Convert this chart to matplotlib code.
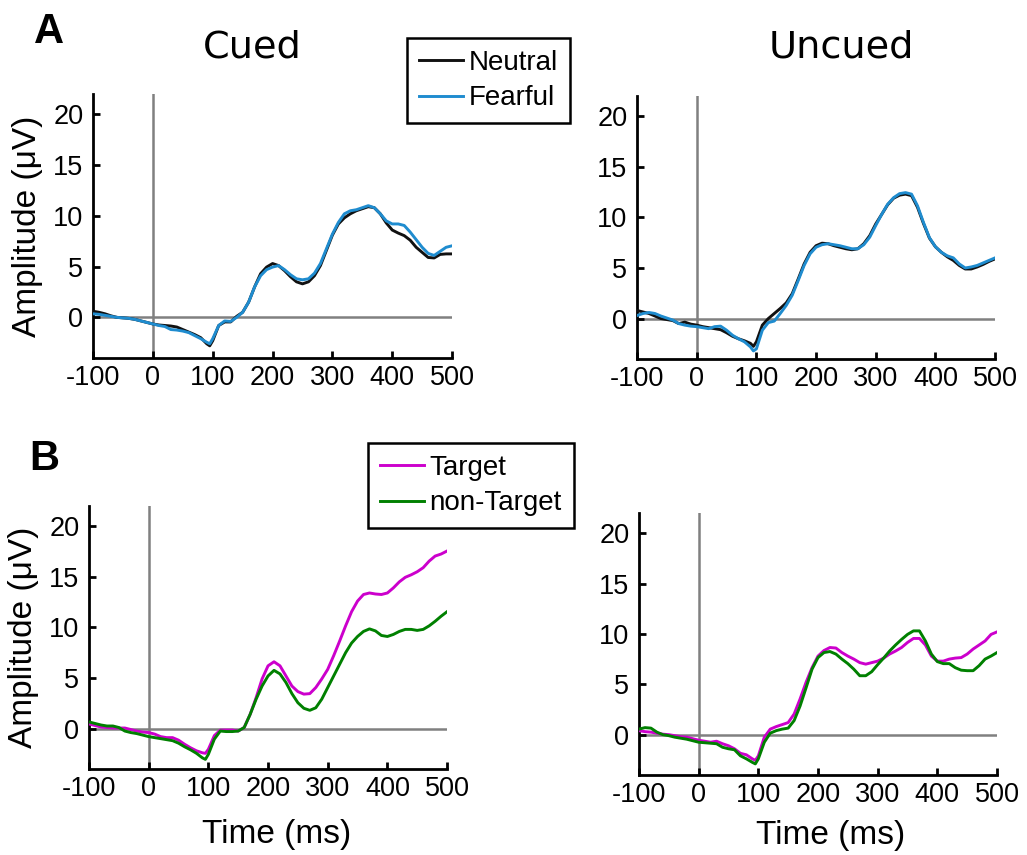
import numpy as np
import matplotlib
matplotlib.use("Agg")
import matplotlib.pyplot as plt

plt.rcParams["font.family"] = ["Liberation Sans", "DejaVu Sans"]
plt.rcParams["axes.unicode_minus"] = False

# sample times (ms), extra point at 95 ms to catch the dip
times = np.r_[np.arange(-100, 91, 10), 95, np.arange(100, 501, 10)]

# A: cued
cued_neutral = [0.6, 0.5, 0.35, 0.15, 0.0, -0.05, -0.1, -0.2, -0.35, -0.5,
                -0.65, -0.75, -0.8, -0.85, -0.95, -1.2, -1.45, -1.7, -2.0, -2.6, -2.8,
                -2.3, -0.8, -0.45, -0.45, 0.1, 0.5, 1.5, 3.0, 4.3, 4.95,
                5.3, 5.1, 4.6, 4.0, 3.5, 3.3, 3.5, 4.1, 5.1, 6.6,
                8.1, 9.2, 9.8, 10.2, 10.5, 10.7, 10.9, 10.8, 10.2, 9.3,
                8.6, 8.3, 8.05, 7.6, 6.9, 6.4, 5.9, 5.85, 6.2, 6.25, 6.25]
cued_fearful = [0.35, 0.3, 0.2, 0.1, 0.0, -0.05, -0.1, -0.2, -0.35, -0.5,
                -0.65, -0.8, -0.9, -1.2, -1.25, -1.35, -1.5, -1.8, -2.1, -2.45, -2.6,
                -2.1, -0.8, -0.35, -0.4, 0.0, 0.5, 1.5, 3.0, 4.1, 4.7,
                4.95, 5.1, 4.7, 4.2, 3.8, 3.7, 3.8, 4.35, 5.3, 6.75,
                8.2, 9.35, 10.2, 10.5, 10.6, 10.8, 11.0, 10.8, 10.2, 9.5,
                9.2, 9.2, 9.05, 8.4, 7.65, 6.9, 6.3, 6.1, 6.5, 6.9, 7.05]

# A: uncued
uncued_neutral = [0.8, 0.65, 0.5, 0.25, 0.0, -0.1, -0.2, -0.5, -0.35, -0.55,
                  -0.65, -0.8, -0.9, -1.0, -1.1, -1.4, -1.75, -2.0, -2.2, -2.45, -2.75,
                  -2.3, -0.65, 0.0, 0.5, 1.0, 1.55, 2.45, 3.9, 5.4, 6.55,
                  7.2, 7.45, 7.4, 7.2, 7.05, 6.9, 6.8, 6.9, 7.4, 8.2,
                  9.35, 10.3, 11.25, 11.9, 12.2, 12.3, 12.15, 11.0, 9.4, 7.95,
                  7.1, 6.55, 6.1, 5.75, 5.25, 4.9, 4.9, 5.1, 5.35, 5.65, 5.9]
uncued_fearful = [0.3, 0.5, 0.6, 0.5, 0.25, 0.05, -0.15, -0.5, -0.65, -0.75,
                  -0.8, -0.9, -1.0, -0.8, -0.75, -1.15, -1.65, -2.0, -2.3, -2.8, -3.2,
                  -3.0, -1.15, -0.4, -0.25, 0.5, 1.3, 2.3, 3.75, 5.25, 6.4,
                  7.05, 7.3, 7.4, 7.3, 7.2, 7.05, 6.9, 6.9, 7.3, 8.05,
                  9.2, 10.3, 11.3, 11.95, 12.35, 12.45, 12.3, 11.15, 9.5, 8.0,
                  7.1, 6.55, 6.2, 6.0, 5.4, 5.0, 5.1, 5.25, 5.5, 5.75, 6.0]

# B: cued
cued_target = [0.45, 0.3, 0.15, 0.1, 0.05, 0.05, 0.05, -0.1, -0.25, -0.35,
               -0.4, -0.55, -0.8, -0.9, -0.9, -1.15, -1.55, -1.9, -2.2, -2.4, -2.45,
               -2.05, -0.7, -0.15, -0.15, -0.15, -0.25, 0.1, 1.4, 3.05, 4.9,
               6.2, 6.6, 6.2, 5.2, 4.2, 3.65, 3.4, 3.45, 4.05, 4.9,
               5.85, 7.2, 8.65, 10.15, 11.55, 12.6, 13.25, 13.4, 13.3, 13.25,
               13.4, 13.9, 14.5, 14.95, 15.2, 15.5, 15.9, 16.55, 17.05, 17.25, 17.55]
cued_nontarget = [0.65, 0.5, 0.35, 0.25, 0.25, 0.1, -0.25, -0.4, -0.5, -0.65,
                  -0.8, -0.9, -1.0, -1.1, -1.2, -1.45, -1.8, -2.1, -2.45, -2.9, -3.05,
                  -2.55, -1.05, -0.25, -0.3, -0.3, -0.25, 0.1, 1.4, 2.9, 4.2,
                  5.2, 5.75, 5.4, 4.55, 3.45, 2.55, 2.0, 1.8, 2.05, 2.9,
                  4.05, 5.2, 6.35, 7.5, 8.45, 9.1, 9.6, 9.85, 9.65, 9.2,
                  9.1, 9.3, 9.6, 9.8, 9.8, 9.7, 9.8, 10.15, 10.6, 11.1, 11.55]

# B: uncued
uncued_target = [0.4, 0.3, 0.25, 0.15, 0.05, 0.0, -0.1, -0.2, -0.25, -0.4,
                 -0.55, -0.65, -0.75, -0.65, -0.9, -1.1, -1.4, -1.85, -2.0, -2.4, -2.55,
                 -2.1, -0.25, 0.55, 0.8, 1.0, 1.2, 2.05, 3.55, 5.2, 6.65,
                 7.8, 8.35, 8.65, 8.6, 8.15, 7.8, 7.5, 7.15, 7.0, 7.15,
                 7.3, 7.6, 8.0, 8.3, 8.65, 9.15, 9.55, 9.55, 8.9, 7.8,
                 7.3, 7.3, 7.5, 7.6, 7.65, 8.0, 8.5, 8.9, 9.3, 9.95, 10.2]
uncued_nontarget = [0.55, 0.7, 0.65, 0.25, 0.0, -0.1, -0.25, -0.35, -0.45, -0.6,
                    -0.75, -0.8, -0.85, -0.9, -1.25, -1.4, -1.5, -2.1, -2.4, -2.75, -2.9,
                    -2.4, -0.75, 0.15, 0.4, 0.55, 0.65, 1.4, 2.85, 4.65, 6.5,
                    7.65, 8.15, 8.25, 8.0, 7.5, 7.05, 6.5, 5.85, 5.85, 6.25,
                    6.95, 7.6, 8.3, 8.9, 9.45, 9.95, 10.3, 10.3, 9.3, 8.0,
                    7.25, 7.05, 7.05, 6.65, 6.4, 6.35, 6.35, 6.85, 7.5, 7.8, 8.15]

xticks = [-100, 0, 100, 200, 300, 400, 500]
yticks = [0, 5, 10, 15, 20]

fig = plt.figure(figsize=(10.27, 8.55), dpi=100)
ax_a1 = fig.add_axes([0.0906, 0.5813, 0.3496, 0.3088])
ax_a2 = fig.add_axes([0.6203, 0.5801, 0.3486, 0.3076])
ax_b1 = fig.add_axes([0.0867, 0.1006, 0.3486, 0.3076])
ax_b2 = fig.add_axes([0.6222, 0.0936, 0.3486, 0.3064])


def style(ax):
    ax.axhline(0, color="#808080", lw=1.8, zorder=1)
    ax.axvline(0, color="#808080", lw=1.8, zorder=1)
    ax.set_xlim(-100, 500)
    ax.set_ylim(-4, 22)
    ax.set_xticks(xticks)
    ax.set_yticks(yticks)
    for s in ["top", "right"]:
        ax.spines[s].set_visible(False)
    for s in ["left", "bottom"]:
        ax.spines[s].set_linewidth(2.0)
    ax.tick_params(direction="in", length=5, width=2, labelsize=19.5)
    ax.tick_params(axis="x", pad=5)
    ax.tick_params(axis="y", pad=7)


lw = 2.1
blue = "#1f8ccf"
l1, = ax_a1.plot(times, cued_neutral, color="#111111", lw=lw, label="Neutral", zorder=3)
l2, = ax_a1.plot(times, cued_fearful, color=blue, lw=lw, label="Fearful", zorder=4)
ax_a2.plot(times, uncued_neutral, color="#111111", lw=lw, zorder=3)
ax_a2.plot(times, uncued_fearful, color=blue, lw=lw, zorder=4)

l3, = ax_b1.plot(times, cued_target, color="#cc00cc", lw=lw, label="Target", zorder=3)
l4, = ax_b1.plot(times, cued_nontarget, color="#008000", lw=lw, label="non-Target", zorder=4)
ax_b2.plot(times, uncued_target, color="#cc00cc", lw=lw, zorder=3)
ax_b2.plot(times, uncued_nontarget, color="#008000", lw=lw, zorder=4)

for ax in [ax_a1, ax_a2, ax_b1, ax_b2]:
    style(ax)

for ax in [ax_a1, ax_b1]:
    ax.set_ylabel("Amplitude (μV)", fontsize=24)
    ax.yaxis.set_label_coords(-0.139, 0.5)

ax_b1.set_xlabel("Time (ms)", fontsize=24)
ax_b1.xaxis.set_label_coords(0.525, -0.19)
ax_b2.set_xlabel("Time (ms)", fontsize=24)
ax_b2.xaxis.set_label_coords(0.534, -0.17)

leg_kw = dict(loc="upper left", fontsize=20, frameon=True, fancybox=False,
              framealpha=1, edgecolor="black", borderaxespad=0, borderpad=0.42,
              handlelength=1.6, handletextpad=0.2, labelspacing=0.35)
lg1 = fig.legend(handles=[l1, l2], bbox_to_anchor=(0.3963, 0.9556), **leg_kw)
lg2 = fig.legend(handles=[l3, l4], bbox_to_anchor=(0.3583, 0.4819), **leg_kw)
for lg in [lg1, lg2]:
    lg.get_frame().set_linewidth(1.8)

fig.text(0.2454, 0.9322, "Cued", fontsize=27.5, family="DejaVu Sans", ha="center", va="baseline")
fig.text(0.8189, 0.9322, "Uncued", fontsize=27.5, family="DejaVu Sans", ha="center", va="baseline")
fig.text(0.0477, 0.9497, "A", fontsize=30, fontweight="bold", ha="center", va="baseline")
fig.text(0.0428, 0.4503, "B", fontsize=30, fontweight="bold", ha="center", va="baseline")

fig.savefig("out.png", dpi=100)
